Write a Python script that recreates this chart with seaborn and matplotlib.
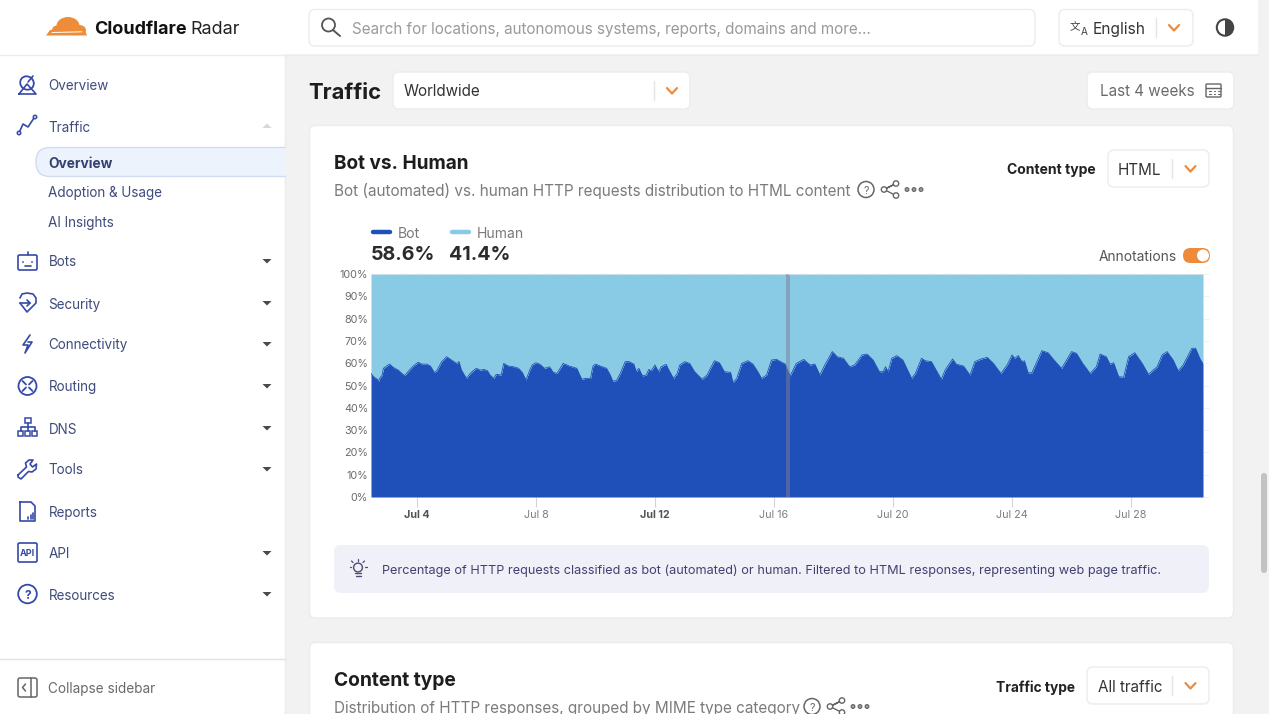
import numpy as np
import pandas as pd
import seaborn as sns
import matplotlib
matplotlib.use("Agg")
import matplotlib.pyplot as plt
import matplotlib.dates as mdates
from matplotlib.patches import FancyBboxPatch, Rectangle, Circle, Wedge, Polygon, Ellipse

# ---------- data ----------
SERIES_START = "2025-07-02 11:00"
BOT_HOURS = [0,2,5,6,7,9,10,13,15,18,22,25,27,31,34,38,41,45,48,51,53,57,61,65,69,71,73,77,80,83,85,88,91,94,96,99,101,105,107,111,115,119,122,125,128,130,133,136,140,144,147,150,155,160,166,170,173,177,179,181,185,190,193,195,198,201,
 205,208,212,214,216,219,222,224,226,229,232,234,238,241,244,247,249,253,257,261,267,271,273,277,281,285,290,292,295,299,304,308,312,315,319,323,327,334,338,343,349,354,358,362,366,372,376,381,386,390,393,396,400,405,410,413,415,417,420,424,429,436,
 439,444,447,452,455,460,463,469,472,478,483,487,492,497,502,508,513,517,519,522,525,527,530,533,541,546,552,557,565,569,574,580,585,588,593,596,599,603,607,611,616,622,627,634,638,642,647,651,655,662,665,669,671]
BOT_SHARE = [55.4,54.0,52.8,51.7,53.2,54.7,57.7,58.9,59.6,58.1,56.9,55.4,54.4,56.9,58.7,60.4,59.6,59.6,58.7,55.9,56.6,60.7,62.9,61.4,59.9,60.7,56.9,53.2,55.4,56.9,57.7,56.9,57.2,56.6,54.7,53.2,55.0,54.7,59.9,58.7,58.4,57.7,55.9,52.5,56.9,59.2,60.2,59.6,57.7,58.4,55.9,55.4,59.9,58.7,57.7,52.8,53.2,53.2,58.7,59.6,58.7,57.7,54.7,52.0,52.2,55.4,
 60.7,60.7,59.6,56.2,57.7,54.3,54.7,57.2,56.6,59.2,56.2,58.4,59.5,56.2,53.2,55.4,59.2,60.7,59.9,56.2,52.8,54.7,56.9,61.1,60.2,56.2,55.9,51.3,53.2,59.9,61.1,59.6,56.2,53.2,54.7,61.4,61.7,59.6,54.3,59.9,61.7,59.2,59.6,54.7,59.2,65.2,62.9,62.2,58.4,59.2,61.4,63.7,64.1,61.4,56.2,56.2,58.4,56.2,62.2,63.4,61.4,53.2,
 55.4,62.2,61.1,60.7,57.7,52.8,56.9,61.9,59.6,58.7,54.7,60.7,61.9,62.6,59.9,55.4,59.2,63.7,62.2,63.4,60.7,61.1,55.7,55.7,65.6,64.7,60.7,57.7,65.2,64.4,59.9,55.4,58.4,64.1,62.9,59.6,60.2,54.0,53.7,62.9,64.7,59.9,55.0,58.4,63.7,65.2,61.4,56.6,59.2,66.7,66.7,61.5,59.9]
SERIES_NAMES = ["Bot", "Human"]
SERIES_TOTALS = ["58.6%", "41.4%"]
ANNOTATION_START = "2025-07-16 09:45"
ANNOTATION_END = "2025-07-16 13:00"
Y_TICKS = [0,10,20,30,40,50,60,70,80,90,100]
X_TICK_DATES = ["2025-07-04","2025-07-08","2025-07-12","2025-07-16","2025-07-20","2025-07-24","2025-07-28"]
X_TICK_LABELS = ["Jul 4","Jul 8","Jul 12","Jul 16","Jul 20","Jul 24","Jul 28"]
X_TICK_BOLD = [True,False,True,False,False,False,False]
NAV_ITEMS = ["Overview","Traffic","Bots","Security","Connectivity","Routing","DNS","Tools","Reports","API","Resources"]
NAV_Y = [85,126,261,303,344,386,428,469,511,553,594]
NAV_CARET = [False,False,True,True,True,True,True,True,False,True,True]

BLUE, SKY = "#1f4fb8", "#89cae4"
NAV = "#3f4c7c"; ICON = "#3549a8"; ORANGE = "#ee8a3a"; GREY = "#7b7b7b"; INK = "#1d1d1f"; EDGE = "#ececec"

sns.set_theme(style="white")
plt.rcParams["font.family"] = ["Inter", "DejaVu Sans"]
fig = plt.figure(figsize=(12.69, 7.14), dpi=100, facecolor="#f2f2f2")

# ---------- page canvas in pixel units ----------
pg = fig.add_axes([0, 0, 1, 1], zorder=0)
pg.set_xlim(0, 1269); pg.set_ylim(714, 0); pg.axis("off")

def fs(px): return px * 0.72
def box(x0, y0, x1, y1, fc="white", ec=EDGE, r=5, lw=1, z=1):
    pg.add_patch(FancyBboxPatch((x0, y0), x1-x0, y1-y0, boxstyle=f"round,pad=0,rounding_size={r}",
                                fc=fc, ec=ec, lw=lw, zorder=z))
def txt(x, y, s, px=14, c=NAV, w="normal", ha="left", z=5):
    return pg.text(x, y, s, fontsize=fs(px), color=c, fontweight=w, ha=ha, va="center_baseline", zorder=z)
def ln(xs, ys, c=ICON, lw=1.2, z=5):
    pg.plot(xs, ys, color=c, lw=lw, solid_capstyle="round", solid_joinstyle="round", zorder=z)
def chev(x, y, c=ORANGE, w=5, h=3.5, lw=1.6):
    ln([x-w, x, x+w], [y-h/1.2, y+h/1.4, y-h/1.2], c=c, lw=lw)
def caret(x, y, c="#4a4a4a", up=False):
    s = -1 if up else 1
    pg.add_patch(Polygon([[x-4.5, y-2*s], [x+4.5, y-2*s], [x, y+2.5*s]], fc=c, ec="none", zorder=5))

# shells
pg.add_patch(Rectangle((0, 0), 1258, 54, fc="white", ec="none", zorder=1))
pg.add_patch(Rectangle((0, 54), 285, 660, fc="white", ec="none", zorder=1))
ln([0, 1258], [54.5, 54.5], c="#ececec", lw=1, z=2)
ln([285, 285], [54, 714], c="#ececec", lw=1, z=2)
box(1261, 473, 1267, 573, fc="#c2c2c2", ec="none", r=3)

# logo
for cx, cy, rx, ry in [(68, 26, 11.5, 9), (59, 30, 7, 5), (79, 30, 7, 5)]:
    pg.add_patch(Ellipse((cx, cy), 2*rx, 2*ry, fc="#ee8c3a", ec="none", zorder=3))
pg.add_patch(Polygon([[46, 35.5], [50, 30], [84, 28], [87, 35.5]], fc="#ee8c3a", ec="none", zorder=3))
ln([52, 82], [32.5, 31.8], c="white", lw=0.7, z=4)
txt(94, 28, "Cloudflare", 18, "#111111", "bold")
txt(190.5, 28, "Radar", 18, "#222222")

# header controls
box(309, 9.5, 1035, 46, r=6)
pg.add_patch(Circle((328.5, 25), 6.5, fc="none", ec="#555555", lw=1.3, zorder=5))
ln([333, 340], [30, 36], c="#555555", lw=1.4)
txt(352, 28, "Search for locations, autonomous systems, reports, domains and more...", 15.2, "#9a9a9a")
box(1059, 9.5, 1193, 46, r=6)
t = txt(1069.5, 26, "文", 10.5, "#444444"); t.set_fontfamily(["Noto Sans CJK SC", "DejaVu Sans"])
txt(1080.5, 31, "A", 10, "#444444")
txt(1093, 28, "English", 15.5, "#333333")
ln([1156, 1156], [18, 37], c="#e4e4e4", lw=1)
chev(1174, 28)
pg.add_patch(Circle((1225, 27.5), 8.2, fc="white", ec="#444444", lw=1.5, zorder=5))
pg.add_patch(Wedge((1225, 27.5), 8.2, 270, 90, fc="#444444", ec="none", zorder=6))

# sidebar
box(36, 147.5, 300, 176.5, fc="#edf3fc", ec="#cfdcf2", r=14, z=2)
pg.add_patch(Rectangle((285.5, 140), 20, 44, fc="#f2f2f2", ec="none", zorder=3))
ln([285, 285], [140, 146], c="#ececec", lw=1, z=4); ln([285, 285], [178, 184], c="#ececec", lw=1, z=4)
for name, y, has in zip(NAV_ITEMS, NAV_Y, NAV_CARET):
    txt(48.5, y, name, 13.5)
    if has: caret(267, y)
caret(267, 126, c="#d8d8d8", up=True)
txt(48.5, 162, "Overview", 13.8, "#34406f", "bold")
txt(48.5, 192, "Adoption & Usage", 13.5)
txt(48.5, 222, "AI Insights", 13.5)
# sidebar icons
pg.add_patch(Ellipse((27, 83), 14, 13, angle=40, fc="none", ec=ICON, lw=1.3, zorder=5))
ln([19, 36, 27, 19], [94, 94, 84, 94]); ln([28, 33], [82, 76])
ln([19, 23, 28, 34], [133, 124, 127, 118]); pg.add_patch(Circle((19, 133), 1.7, fc="white", ec=ICON, lw=1.1, zorder=6)); pg.add_patch(Circle((35, 117), 1.7, fc="white", ec=ICON, lw=1.1, zorder=6))
box(18, 255, 37, 270, fc="none", ec=ICON, r=1.5, lw=1.2, z=5); ln([27.5, 27.5], [252, 255]); pg.add_patch(Circle((23, 262), .9, fc=ICON, ec="none", zorder=6)); pg.add_patch(Circle((32, 262), .9, fc=ICON, ec="none", zorder=6)); ln([24.5, 30.5], [266, 266])
ln([20, 22, 27, 33, 36, 36, 27, 20], [298, 294, 293, 294, 298, 303, 312, 303]); ln([20, 30], [303, 303]); ln([27, 30, 27], [300, 303, 306])
ln([30, 23, 28, 25, 32, 28], [335, 345, 345, 353, 342, 342])
pg.add_patch(Circle((27.5, 386), 9, fc="none", ec=ICON, lw=1.3, zorder=5))
for a, b, c_, d in [(22.5, 381, 26, 384.5), (32.5, 381, 29, 384.5), (22.5, 391, 26, 387.5), (32.5, 391, 29, 387.5)]:
    ln([a, c_], [b, d], lw=1.3)
for bx in (18, 25, 32):
    pg.add_patch(Rectangle((bx, 431), 5, 5, fc="none", ec=ICON, lw=1.1, zorder=5))
pg.add_patch(Rectangle((25, 418), 5.5, 5, fc="none", ec=ICON, lw=1.1, zorder=5))
ln([27.5, 27.5], [423, 431]); ln([20.5, 20.5, 34.5, 34.5], [431, 427, 427, 431])
ln([18, 26.5, 25.5, 29, 33, 30, 32.5, 36.5, 36, 32, 28.5, 21, 18, 18], [475, 467, 463, 460, 460, 464, 467, 464, 469, 472, 471.5, 479, 477, 475], lw=1.2)
ln([20, 31, 35, 35, 20, 20], [502, 502, 506, 521, 521, 502]); ln([28, 28], [517, 519]); ln([30.5, 30.5], [515, 519]); ln([33, 33], [513, 519])
box(18, 543, 37, 562, fc="none", ec=ICON, r=1.5, lw=1.2, z=5); txt(27.5, 553, "API", 9, ICON, "bold", ha="center")
pg.add_patch(Circle((27.5, 594), 9.3, fc="none", ec=ICON, lw=1.3, zorder=5)); txt(27.5, 594.5, "?", 12, ICON, "bold", ha="center")
ln([0, 285], [659, 659], c="#e2e2e2", lw=1, z=2)
box(18, 678, 37, 697, fc="none", ec="#666666", r=2, lw=1.1, z=5); ln([31, 31], [678, 697], c="#666666", lw=1.1); ln([25.5, 22.5, 25.5], [684, 687.5, 691], c="#666666", lw=1.1)
txt(48.5, 687, "Collapse sidebar", 13.6, "#6a6a6a")

# page title row
txt(308.5, 91, "Traffic", 22, INK, "bold")
box(393, 72, 690, 109, r=6)
txt(404, 90.5, "Worldwide", 15.2, "#333333")
ln([654, 654], [81, 100], c="#e4e4e4", lw=1); chev(672, 91)
box(1087, 72, 1234, 109, r=6)
txt(1100, 90.5, "Last 4 weeks", 15.2, "#6b6b6b")
box(1206, 84, 1221, 97, fc="none", ec="#666666", r=1, lw=1, z=5); ln([1206, 1221], [87.5, 87.5], c="#666666", lw=1)
for gx in (1209, 1213.5, 1218):
    ln([gx, gx+1.5], [91, 91], c="#666666", lw=.8); ln([gx, gx+1.5], [94, 94], c="#666666", lw=.8)

# main card
box(309.5, 125.5, 1233.5, 618, r=6)
txt(334, 162, "Bot vs. Human", 19, INK, "bold")
txt(334, 189.5, "Bot (automated) vs. human HTTP requests distribution to HTML content", 15.3, GREY)
def utility(cx, y):
    pg.add_patch(Circle((cx, y), 8, fc="none", ec="#666666", lw=1.1, zorder=5)); txt(cx, y+.5, "?", 10.5, "#666666", ha="center")
    sx = cx + 18
    ln([sx, sx+11, sx, sx+11], [y, y-5.5, y, y+5.5], c="#666666", lw=1)
    for a, b in [(sx, y), (sx+12, y-6), (sx+12, y+6)]:
        pg.add_patch(Circle((a, b), 2.7, fc="white", ec="#666666", lw=1, zorder=6))
    for d in (sx+23, sx+30, sx+37):
        pg.add_patch(Circle((d, y), 1.9, fc="#9a9a9a", ec="#666666", lw=.8, zorder=6))
utility(866, 189.5)
txt(1096, 168.5, "Content type", 14, "#222222", "bold", ha="right")
box(1108, 150, 1209, 187, r=6)
txt(1118, 169, "HTML", 15.2, "#333333")
ln([1172, 1172], [159, 178], c="#e4e4e4", lw=1); chev(1190.5, 169)

# legend
LEG_X = [371, 450]
for x0, name, tot, col in zip(LEG_X, SERIES_NAMES, SERIES_TOTALS, [BLUE, SKY]):
    pg.plot([x0+2, x0+19], [232, 232], color=col, lw=3.2, solid_capstyle="round", zorder=5)
    txt(x0+27, 232.5, name, 14, "#7a7a7a")
    txt(x0-0.5 if name == "Human" else x0, 252.5, tot, 19.6, "#2b2b2b", "bold")
txt(1177, 255.5, "Annotations", 13.8, "#555555", ha="right")
box(1183, 248, 1210, 263, fc=ORANGE, ec="none", r=7.5, z=4)
pg.add_patch(Circle((1203, 255.5), 6, fc="white", ec="none", zorder=5))

# info box
box(334, 545, 1209, 593, fc="#f0f0f9", ec="none", r=7)
txt(382, 569.5, "Percentage of HTTP requests classified as bot (automated) or human. Filtered to HTML responses, representing web page traffic.", 12.7, "#41416f")
pg.add_patch(Circle((358, 567.5), 4.4, fc="none", ec="#4b4b73", lw=1, zorder=5)); ln([355.5, 360.5], [575.5, 575.5], c="#4b4b73", lw=1)
ln([355, 361], [572.5, 572.5], c="#4b4b73", lw=1)
for a, b, c_, d in [(351, 567, 349.5, 567), (365, 567, 366.5, 567), (358, 561, 358, 559), (353, 562.5, 351.5, 561), (363, 562.5, 364.5, 561)]:
    ln([a, c_], [b, d], c="#4b4b73", lw=.9)

# second card
box(309.5, 642.5, 1233.5, 730, r=6)
txt(334, 679.5, "Content type", 19.2, INK, "bold")
txt(334, 706.5, "Distribution of HTTP responses, grouped by MIME type category", 15.3, GREY)
utility(812, 706.5)
txt(1075, 686.5, "Traffic type", 13.8, "#222222", "bold", ha="right")
box(1087, 667, 1209, 704, r=6)
txt(1098, 686, "All traffic", 15.2, "#333333")
ln([1172, 1172], [676, 695], c="#e4e4e4", lw=1); chev(1190.5, 686)

# ---------- the chart ----------
df = pd.DataFrame({"hours": BOT_HOURS, "Bot": BOT_SHARE})
df["time"] = pd.Timestamp(SERIES_START) + pd.to_timedelta(df["hours"], unit="h")

ax = fig.add_axes([371/1269, 1-497/714, (1203-371)/1269, (497-274)/714], zorder=2)
ax.patch.set_alpha(0)
x_num = mdates.date2num(df["time"])
ax.fill_between(x_num, 0, df["Bot"], color=BLUE, lw=0, zorder=2)
ax.fill_between(x_num, df["Bot"], 100, color=SKY, lw=0, zorder=2)
sns.lineplot(x=x_num, y=df["Bot"], color=BLUE, lw=0.6, ax=ax, zorder=3, errorbar=None)
ax.axvspan(mdates.date2num(pd.Timestamp(ANNOTATION_START)), mdates.date2num(pd.Timestamp(ANNOTATION_END)),
           color="#7d7d95", alpha=0.5, lw=0, zorder=4)
ax.axhline(100, color="#d2dde2", lw=0.8, ls=(0, (3, 2)), zorder=5, clip_on=False)
ax.set_xlim(x_num[0], x_num[-1]); ax.set_ylim(0, 100)
ax.set_xlabel(""); ax.set_ylabel("")
ax.set_yticks(Y_TICKS, [f"{v}%" for v in Y_TICKS])
tick_num = mdates.date2num(pd.to_datetime(X_TICK_DATES))
ax.set_xticks(tick_num, X_TICK_LABELS)
ax.tick_params(axis="y", left=False, right=True, length=4, width=.6, color="#efefef", pad=-2, labelsize=fs(10.8), labelcolor="#6a6a6a")
ax.tick_params(axis="x", bottom=True, length=7, width=.8, color="#d4d4d4", pad=2, labelsize=fs(10.8), labelcolor="#7d7d7d")
for lab, bold in zip(ax.get_xticklabels(), X_TICK_BOLD):
    if bold:
        lab.set_fontweight("bold"); lab.set_color("#555555")
sns.despine(ax=ax, left=True, top=True, right=True, bottom=True)
ax.grid(False)

fig.savefig("out.png", dpi=100, facecolor=fig.get_facecolor())
